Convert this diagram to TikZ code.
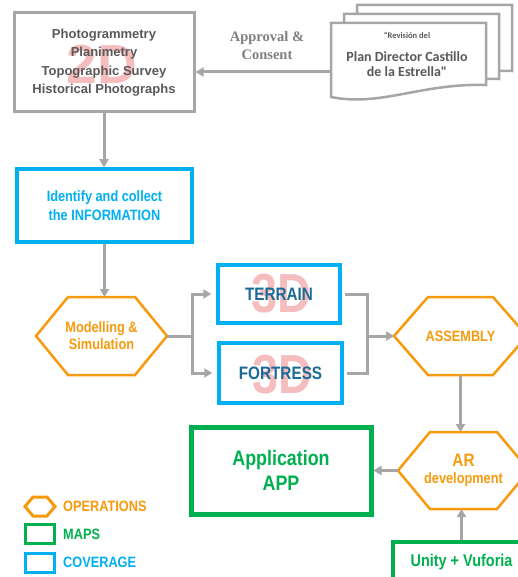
\documentclass[tikz,border=0pt]{standalone}
\usepackage{fontspec}
\setmainfont{Liberation Sans}
\newfontfamily\narrowb[FakeStretch=0.85]{Liberation Sans Bold}
\newfontfamily\carlb{Carlito Bold}
\newfontfamily\serifb{Liberation Serif Bold}
\usetikzlibrary{arrows.meta}
\definecolor{cgray}{HTML}{A6A6A6}
\definecolor{dgray}{HTML}{595959}
\definecolor{tgray}{HTML}{7F7F7F}
\definecolor{corange}{HTML}{F79A0E}
\definecolor{cblue}{HTML}{00B0F0}
\definecolor{cgreen}{HTML}{00B050}
\definecolor{cteal}{HTML}{1C6B97}
\definecolor{cpink}{HTML}{F5BDBD}
\tikzset{
  conn/.style={draw=cgray, line width=3pt},
  arr/.style={conn, -{Triangle[length=8pt,width=9pt]}},
  srcbox/.style={draw=cgray, line width=3pt, minimum width=180pt, minimum height=99pt,
    align=center, text=dgray, font=\fontsize{13}{18.5}\selectfont\bfseries},
  covbox/.style={draw=cblue, line width=3.5pt, align=center, inner sep=0pt},
  mapbox/.style={draw=cgreen, line width=3.5pt, align=center, inner sep=0pt, text=cgreen},
  hexnode/.style={inner sep=0pt, outer sep=0pt, minimum height=78pt, align=center,
    text=corange, font=\narrowb\fontsize{15}{17}\selectfont},
  hexline/.style={draw=corange, line width=2.5pt, line join=miter},
  docline/.style={draw=cgray, line width=2.5pt, fill=white, line join=miter},
  wmark/.style={text=cpink, inner sep=0pt},
  legtext/.style={anchor=west, inner sep=0pt, font=\narrowb\fontsize{15}{17}\selectfont},
}
\newcommand\hexof[2]{\draw[hexline] (#1.west) -- ([xshift=#2]#1.north west) -- ([xshift=-#2]#1.north east) -- (#1.east) -- ([xshift=-#2]#1.south east) -- ([xshift=#2]#1.south west) -- cycle;}
\newcommand\docpage[3]{\filldraw[docline, shift={(#1,#2)}] (0,0) -- (155,0) -- (155,#3) .. controls (90,#3-2) and (50,84) .. (0,74) -- cycle;}
\begin{document}
\begin{tikzpicture}[x=1pt,y=-1pt]
\useasboundingbox[fill=white] (0,0) rectangle (517,577);

% watermarks
\node[wmark, font=\fontsize{55}{55}\selectfont\bfseries] (wm2d) at (102,64) {2D};
\node[wmark, font=\narrowb\fontsize{55}{55}\selectfont] (wm3a) at (281,294) {3D};
\node[wmark, font=\narrowb\fontsize{55}{55}\selectfont] (wm3b) at (282,375) {3D};

% source box
\node[srcbox] (src) at (104,62.5) {Photogrammetry\\Planimetry\\Topographic Survey\\Historical Photographs};

% document stack
\docpage{357}{5}{66}
\docpage{344}{14}{65}
\docpage{331}{23}{62}
\node[text=dgray, font=\carlb\fontsize{8.5}{10}\selectfont] (docA) at (407,35) {“Revisión del};
\node[text=dgray, align=center, font=\carlb\fontsize{14}{15}\selectfont] (docB) at (407,64) {Plan Director Castillo\\de la Estrella"};
\coordinate (apin) at (331,72);
\draw[arr] (apin) -- (apin -| src.east);
\node[text=tgray, align=center, font=\serifb\fontsize{14.5}{18}\selectfont] (appr) at (267,46) {Approval \&\\Consent};

% identify
\node[covbox, minimum width=175pt, minimum height=73pt, text=cblue,
  font=\narrowb\fontsize{15}{19}\selectfont] (ident) at (104.5,205.5) {Identify and collect\\the INFORMATION};
\draw[arr] (src.south) -- (src.south |- ident.north);

% modelling
\node[hexnode, minimum width=131pt] (model) at (101.5,336) {Modelling \&\\Simulation};
\hexof{model}{32}
\draw[arr] (ident.south) -- (ident.south |- model.north);

% terrain & fortress
\node[covbox, minimum width=122pt, minimum height=58pt, text=cteal,
  font=\narrowb\fontsize{18}{20}\selectfont] (terrain) at (279,294) {TERRAIN};
\node[covbox, minimum width=123pt, minimum height=60pt, text=cteal,
  font=\narrowb\fontsize{18}{20}\selectfont] (fortress) at (280.5,373) {FORTRESS};
\draw[arr, shorten >=5pt] (model.east) -- ++(25,0) |- (terrain.west);
\draw[arr, shorten >=5pt] (model.east) -- ++(25,0) |- (fortress.west);

% assembly
\node[hexnode, minimum width=133pt] (asm) at (460.5,336) {ASSEMBLY};
\hexof{asm}{34}
\coordinate (jn) at (367,336);
\draw[conn, shorten <=3pt] (terrain.east) -| (jn);
\draw[conn, shorten <=3pt] (fortress.east) -| (jn);
\draw[arr] (jn) -- (asm.west);

% AR development
\node[hexnode, minimum width=131pt, minimum height=77pt] (ar) at (463.5,470.5)
  {{\fontsize{18}{19}\selectfont AR}\\development};
\hexof{ar}{32}
\draw[arr] (asm.south) -- (asm.south |- ar.north);

% application
\node[mapbox, line width=5pt, minimum width=180pt, minimum height=87pt,
  font=\narrowb\fontsize{21}{25}\selectfont] (app) at (281,470.5) {Application\\APP};
\draw[arr] (ar.west) -- (app.east);

% unity
\node[mapbox, minimum width=137pt, minimum height=40pt,
  font=\narrowb\fontsize{17}{19}\selectfont] (unity) at (461.5,562) {Unity + Vuforia};
\draw[arr] (unity.north) -- (unity.north |- ar.south);

% legend
\node[inner sep=0pt, outer sep=0pt, minimum width=30pt, minimum height=19pt] (lgop) at (40,506.5) {};
\draw[hexline, line width=3pt] (lgop.west) -- ([xshift=8]lgop.north west) -- ([xshift=-8]lgop.north east) -- (lgop.east) -- ([xshift=-8]lgop.south east) -- ([xshift=8]lgop.south west) -- cycle;
\node[legtext, text=corange] (lgopt) at (63,506) {OPERATIONS};
\node[draw=cgreen, line width=3pt, minimum width=29pt, minimum height=19pt, inner sep=0pt] (lgmap) at (40,534) {};
\node[legtext, text=cgreen] (lgmapt) at (63,534) {MAPS};
\node[draw=cblue, line width=3pt, minimum width=29pt, minimum height=19pt, inner sep=0pt] (lgcov) at (40,562.5) {};
\node[legtext, text=cblue] (lgcovt) at (63,562.5) {COVERAGE};
\end{tikzpicture}
\end{document}
